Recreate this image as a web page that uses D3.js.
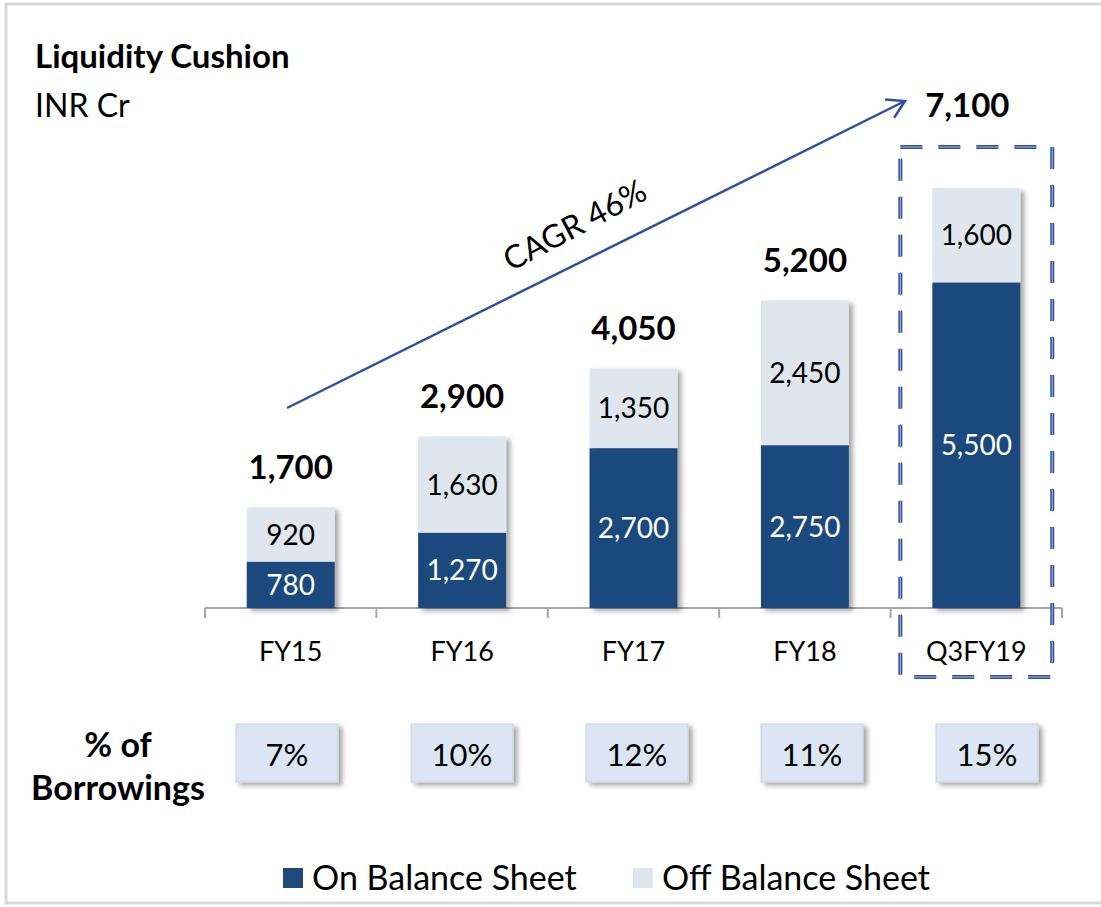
<!DOCTYPE html>
<html>
<head>
<meta charset="utf-8">
<script src="https://cdn.jsdelivr.net/npm/d3@7"></script>
<style>
  body { margin: 0; background: #fff; }
  svg { display: block; font-family: Lato, "Open Sans", sans-serif; }
</style>
</head>
<body>
<svg id="chart" width="1101" height="907"></svg>
<script>
// data
const categories = ["FY15", "FY16", "FY17", "FY18", "Q3FY19"];
const onBalance = [780, 1270, 2700, 2750, 5500];
const offBalance = [920, 1630, 1350, 2450, 1600];
const totals = [1700, 2900, 4050, 5200, 7100];
const pctBorrowings = [7, 10, 12, 11, 15];
const seriesNames = ["On Balance Sheet", "Off Balance Sheet"];
const highlight = "Q3FY19";

const colors = {on: "#1f497d", off: "#dfe6ee", accent: "#2f4f9f", box: "#dbe5f3"};

const svg = d3.select("#chart");
const fmt = d3.format(",");

// shadow
const defs = svg.append("defs");
const f = defs.append("filter").attr("id", "shadow")
    .attr("x", "-20%").attr("y", "-20%").attr("width", "150%").attr("height", "150%");
f.append("feDropShadow").attr("dx", 4).attr("dy", 3).attr("stdDeviation", 2.5)
    .attr("flood-color", "#000").attr("flood-opacity", 0.35);

// frame
svg.append("path")
    .attr("d", "M1101,4 H6 V903 H1101")
    .style("fill", "none").style("stroke", "#d9d9d9").style("stroke-width", 3);

// scales
const x = d3.scaleBand().domain(categories).range([205, 1062])
    .paddingInner(0.487).paddingOuter(0.2435);
const y = d3.scaleLinear().domain([0, 7100]).range([608, 188]);

const rows = categories.map((c, i) => ({
    cat: c, on: onBalance[i], off: offBalance[i], total: totals[i], pct: pctBorrowings[i]
}));

// title
svg.append("text").attr("x", 35).attr("y", 68)
    .style("font-size", "33px").style("font-weight", "bold").text("Liquidity Cushion");
svg.append("text").attr("x", 35).attr("y", 117)
    .style("font-size", "32px").text("INR Cr");

// axis line + separators
const step = x.step();
const x0 = x.range()[0], x1 = x.range()[1];
svg.append("line").attr("x1", x0).attr("x2", x1).attr("y1", y(0)).attr("y2", y(0))
    .style("stroke", "#a6a6a6").style("stroke-width", 2);
svg.selectAll("line.sep")
    .data(d3.range(categories.length + 1))
    .join("line").attr("class", "sep")
    .attr("x1", i => x0 + i * step).attr("x2", i => x0 + i * step)
    .attr("y1", y(0)).attr("y2", y(0) + 10)
    .style("stroke", "#a6a6a6").style("stroke-width", 2);

// bars
const bars = svg.append("g");
bars.selectAll("g.bar")
    .data(rows)
    .join("g").attr("class", "bar")
    .style("filter", "url(#shadow)")
    .each(function(d) {
        const g = d3.select(this);
        g.append("rect")
            .attr("x", x(d.cat)).attr("width", x.bandwidth())
            .attr("y", y(d.on + d.off)).attr("height", y(d.on) - y(d.on + d.off))
            .style("fill", colors.off);
        g.append("rect")
            .attr("x", x(d.cat)).attr("width", x.bandwidth())
            .attr("y", y(d.on)).attr("height", y(0) - y(d.on))
            .style("fill", colors.on);
    });

// segment labels
svg.selectAll("text.on")
    .data(rows).join("text").attr("class", "on")
    .attr("x", d => x(d.cat) + x.bandwidth() / 2)
    .attr("y", d => (y(0) + y(d.on)) / 2 + 10)
    .attr("text-anchor", "middle")
    .style("font-size", "28px").style("fill", "white")
    .text(d => fmt(d.on));
svg.selectAll("text.off")
    .data(rows).join("text").attr("class", "off")
    .attr("x", d => x(d.cat) + x.bandwidth() / 2)
    .attr("y", d => (y(d.on) + y(d.on + d.off)) / 2 + 10)
    .attr("text-anchor", "middle")
    .style("font-size", "28px").style("fill", "black")
    .text(d => fmt(d.off));

// highlight box
const hb = {x: x(highlight) - 32, y: y(7100) - 41};
hb.w = x.bandwidth() + 64;
hb.h = 677 - hb.y;
svg.append("rect").attr("x", hb.x).attr("y", hb.y).attr("width", hb.w).attr("height", hb.h)
    .style("fill", "none").style("stroke", colors.accent).style("stroke-width", 4)
    .style("stroke-dasharray", "22 16");
svg.append("rect").attr("x", hb.x).attr("y", hb.y).attr("width", hb.w).attr("height", hb.h)
    .style("fill", "none").style("stroke", "#aebbe0").style("stroke-width", 1)
    .style("stroke-dasharray", "22 16");

// totals
svg.selectAll("text.total")
    .data(rows).join("text").attr("class", "total")
    .attr("x", d => x(d.cat) + x.bandwidth() / 2 - (d.cat === highlight ? 9 : 0))
    .attr("y", d => d.cat === highlight ? hb.y - 30 : y(d.total) - 28)
    .attr("text-anchor", "middle")
    .style("font-size", "33px").style("font-weight", "bold")
    .text(d => fmt(d.total));

// category labels
svg.selectAll("text.cat")
    .data(rows).join("text").attr("class", "cat")
    .attr("x", d => x(d.cat) + x.bandwidth() / 2)
    .attr("y", 661)
    .attr("text-anchor", "middle")
    .style("font-size", "27px")
    .text(d => d.cat);

// CAGR arrow
const arrow = {x1: 287, y1: 408, x2: 905, y2: 101};
svg.append("line").attr("x1", arrow.x1).attr("y1", arrow.y1).attr("x2", arrow.x2).attr("y2", arrow.y2)
    .style("stroke", colors.accent).style("stroke-width", 2.5);
const ang = Math.atan2(arrow.y2 - arrow.y1, arrow.x2 - arrow.x1);
const head = [ang + Math.PI * 0.83, ang - Math.PI * 0.83].map(a => [arrow.x2 + 20 * Math.cos(a), arrow.y2 + 20 * Math.sin(a)]);
svg.append("path")
    .attr("d", `M${head[0]} L${arrow.x2},${arrow.y2} L${head[1]}`)
    .style("fill", "none").style("stroke", colors.accent).style("stroke-width", 2.5);
svg.append("text")
    .attr("transform", "translate(580,235) rotate(-28)")
    .attr("text-anchor", "middle")
    .style("font-size", "32px")
    .text("CAGR 46%");

// % of borrowings
const px = d3.scalePoint().domain(categories).range([287, 987]);
svg.append("text").attr("x", 118).attr("y", 757).attr("text-anchor", "middle")
    .style("font-size", "34px").style("font-weight", "bold").text("% of");
svg.append("text").attr("x", 118).attr("y", 800).attr("text-anchor", "middle")
    .style("font-size", "34px").style("font-weight", "bold").text("Borrowings");
svg.selectAll("rect.pct")
    .data(rows).join("rect").attr("class", "pct")
    .attr("x", d => px(d.cat) - 51).attr("y", 724)
    .attr("width", 102).attr("height", 58)
    .style("fill", colors.box).style("stroke", "#c9d1dc").style("stroke-width", 1)
    .style("filter", "url(#shadow)");
svg.selectAll("text.pct")
    .data(rows).join("text").attr("class", "pct")
    .attr("x", d => px(d.cat)).attr("y", 766)
    .attr("text-anchor", "middle")
    .style("font-size", "31px")
    .text(d => d.pct + "%");

// legend
const legend = svg.append("g").selectAll("g")
    .data(seriesNames).join("g")
    .attr("transform", (d, i) => `translate(${283 + i * 350},868)`);
legend.append("rect").attr("width", 20).attr("height", 20)
    .style("fill", (d, i) => i === 0 ? colors.on : colors.off);
legend.append("text").attr("x", 29).attr("y", 22)
    .style("font-size", "34px")
    .text(d => d);
</script>
</body>
</html>
